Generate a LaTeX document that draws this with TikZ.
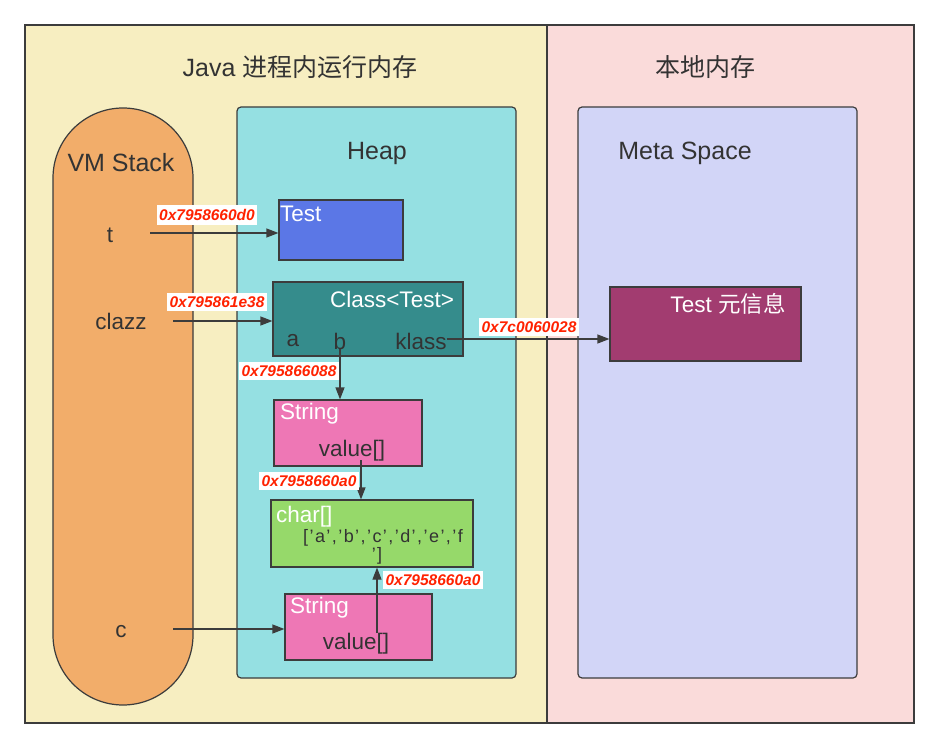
\documentclass[tikz,border=0pt]{standalone}
\usepackage{fontspec}
\setmainfont{Liberation Sans}
\newfontfamily\cjk{Noto Sans CJK SC}
\usetikzlibrary{arrows.meta}
\definecolor{pyel}{HTML}{F7EEC1}
\definecolor{ppink}{HTML}{FADBDA}
\definecolor{cstack}{HTML}{F2AD6A}
\definecolor{cheap}{HTML}{95E0E2}
\definecolor{cmeta}{HTML}{D2D5F7}
\definecolor{ctest}{HTML}{5B77E6}
\definecolor{cclass}{HTML}{358C8C}
\definecolor{cmbox}{HTML}{A23C70}
\definecolor{cstr}{HTML}{EE77B5}
\definecolor{cchar}{HTML}{96D96A}
\definecolor{cline}{HTML}{3C3C3C}
\definecolor{ctext}{HTML}{333333}
\definecolor{cred}{HTML}{FF2200}
\tikzset{
  panel/.style={draw=cline, line width=1.2pt},
  area/.style={draw=cline, line width=1.2pt, rounded corners=4pt, minimum width=279pt, minimum height=571pt, inner sep=0pt},
  obj/.style={draw=cline, line width=1.2pt, inner sep=0pt},
  title/.style={font=\fontsize{25}{28}\selectfont, text=ctext, inner sep=0pt},
  head/.style={font=\fontsize{25}{28}\selectfont, text=ctext, inner sep=0pt},
  txt/.style={font=\fontsize{22.5}{26}\selectfont, text=ctext, inner sep=0pt},
  wtxt/.style={font=\fontsize{22.5}{26}\selectfont, text=white, inner sep=0pt},
  arrtxt/.style={font=\fontsize{18}{21}\addfontfeature{LetterSpace=8}\selectfont, text=ctext, inner sep=0pt},
  addr/.style={fill=white, text=cred, font=\fontsize{15.5}{17}\bfseries\itshape\selectfont, inner xsep=2.5pt, inner ysep=4pt},
  arr/.style={draw=cline, line width=1.2pt, -{Triangle[length=12pt,width=9pt]}},
}
\begin{document}
\begin{tikzpicture}[x=1pt,y=-1pt]
\useasboundingbox (0,0) rectangle (938,749);
% panels
\path[panel, fill=pyel] (25,25) rectangle (547,723);
\path[panel, fill=ppink] (547,25) rectangle (914,723);
\node[title] (t1) at (300,67) {Java {\cjk 进程内运行内存}};
\node[title] (t2) at (705,67) {\cjk 本地内存};
% areas
\node[obj, fill=cstack, minimum width=140pt, minimum height=597pt, rounded corners=70pt] (stack) at (123,406.5) {};
\node[area, fill=cheap] (heap) at (376.5,392.5) {};
\node[area, fill=cmeta] (meta) at (717.5,392.5) {};
\node[head] (lstack) at (121,163) {VM Stack};
\node[head] (lheap) at (377,153) {Heap};
\node[head] (lmeta) at (685,153) {Meta Space};
% objects
\node[obj, fill=ctest, minimum width=124pt, minimum height=60pt] (test) at (341,230) {};
\node[wtxt, anchor=west] (ltest) at (280,214) {Test};
\node[obj, fill=cclass, minimum width=190pt, minimum height=74pt] (class) at (368,319) {};
\node[wtxt] (lclass) at (392,299) {Class<Test>};
\node[txt] (fa) at (293,341) {a};
\node[txt] (fb) at (340,341) {b};
\node[txt] (fk) at (421,341) {klass};
\node[obj, fill=cmbox, minimum width=191pt, minimum height=74pt] (mbox) at (705.5,324) {};
\node[wtxt] (lmbox) at (728,304) {Test {\cjk 元信息}};
\node[obj, fill=cstr, minimum width=148pt, minimum height=66pt] (s1) at (348,433) {};
\node[wtxt, anchor=west] (ls1) at (280,414) {String};
\node[txt] (v1) at (352,451) {value[]};
\node[obj, fill=cchar, minimum width=202pt, minimum height=67pt] (chr) at (372,533.5) {};
\node[wtxt, anchor=west] (lchr) at (276,517) {char[]};
\node[arrtxt] (arr1) at (383,538) {['a','b','c','d','e','f};
\node[arrtxt] (arr2) at (377,556) {']};
\node[obj, fill=cstr, minimum width=147pt, minimum height=66pt] (s2) at (358.5,627) {};
\node[wtxt, anchor=west] (ls2) at (290,608) {String};
\node[txt] (v2) at (356,644) {value[]};
% stack vars
\node[txt] (vt) at (110,235) {t};
\node[txt] (vclazz) at (121,321) {clazz};
\node[txt] (vc) at (121,632) {c};
% connectors
\coordinate (ot) at (150,233);
\coordinate (oclazz) at (173,321);
\coordinate (oc) at (173,629);
\coordinate (ov1) at (361,460);
\coordinate (ov2) at (377,633);
\draw[arr] (ot) -- (ot -| test.west);
\draw[arr] (oclazz) -- (oclazz -| class.west);
\draw[arr] (oc) -- (oc -| s2.west);
\draw[arr] ([yshift=2pt]fk.east) -- ([yshift=2pt]fk.east -| mbox.west);
\draw[arr] (fb.south) -- (fb.south |- s1.north);
\draw[arr] (ov1) -- (ov1 |- chr.north);
\draw[arr] (ov2) -- (ov2 |- chr.south);
% address labels
\node[addr] (a1) at (207,215) {0x7958660d0};
\node[addr] (a2) at (217,302) {0x795861e38};
\node[addr] (a3) at (289,371) {0x795866088};
\node[addr] (a4) at (529,327) {0x7c0060028};
\node[addr] (a5) at (309,481) {0x7958660a0};
\node[addr] (a6) at (433,580) {0x7958660a0};
\end{tikzpicture}
\end{document}
